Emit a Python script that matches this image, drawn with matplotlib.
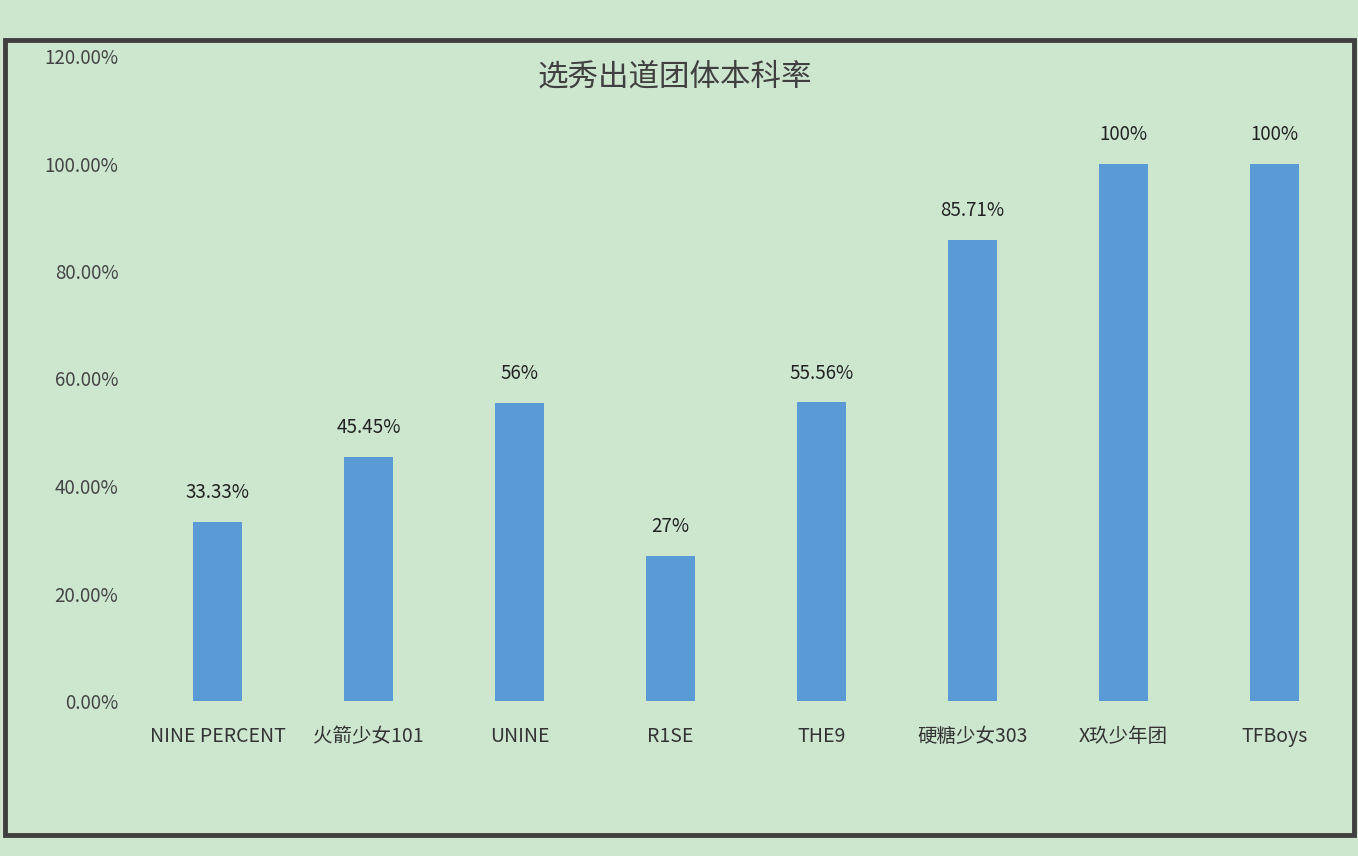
import matplotlib
matplotlib.use("Agg")
import matplotlib.pyplot as plt
from matplotlib.patches import Rectangle

plt.rcParams['font.family'] = ['Noto Sans CJK SC', 'DejaVu Sans']

categories = ["NINE PERCENT", "火箭少女101", "UNINE", "R1SE", "THE9", "硬糖少女303", "X玖少年团", "TFBoys"]
values = [33.33, 45.45, 55.5, 27, 55.56, 85.71, 100, 100]
labels = ["33.33%", "45.45%", "56%", "27%", "55.56%", "85.71%", "100%", "100%"]
yticks = [0, 20, 40, 60, 80, 100, 120]

bg = "#cde7cf"
fig = plt.figure(figsize=(13.58, 8.56), dpi=100, facecolor=bg)
fig.patches.append(Rectangle((5/1358, 1-835/856), 1349/1358, 795/856, transform=fig.transFigure,
                             fill=False, edgecolor="#404040", linewidth=3.5))
ax = fig.add_axes([142/1358, 1-701/856, 1208/1358, 645/856])
ax.set_facecolor(bg)
x = range(len(categories))
ax.bar(x, values, width=0.32, color="#5b9bd5")
for i, (v, l) in enumerate(zip(values, labels)):
    ax.text(i, v + 3.5, l, ha="center", va="bottom", fontsize=13.5, color="#222222")
ax.set_xlim(-0.5, len(categories) - 0.5)
ax.set_ylim(0, 120)
ax.set_yticks(yticks)
ax.set_yticklabels([f"{t:.2f}%" for t in yticks], fontsize=13.5, color="#444444")
ax.set_xticks(list(x))
ax.set_xticklabels(categories, fontsize=14, color="#333333")
ax.tick_params(length=0, pad=17)
ax.tick_params(axis="x", pad=18)
for s in ax.spines.values():
    s.set_visible(False)
fig.text(675/1358, 1-77/856, "选秀出道团体本科率", ha="center", va="center", fontsize=22, color="#404040")
fig.savefig("out.png", dpi=100, facecolor=bg)
